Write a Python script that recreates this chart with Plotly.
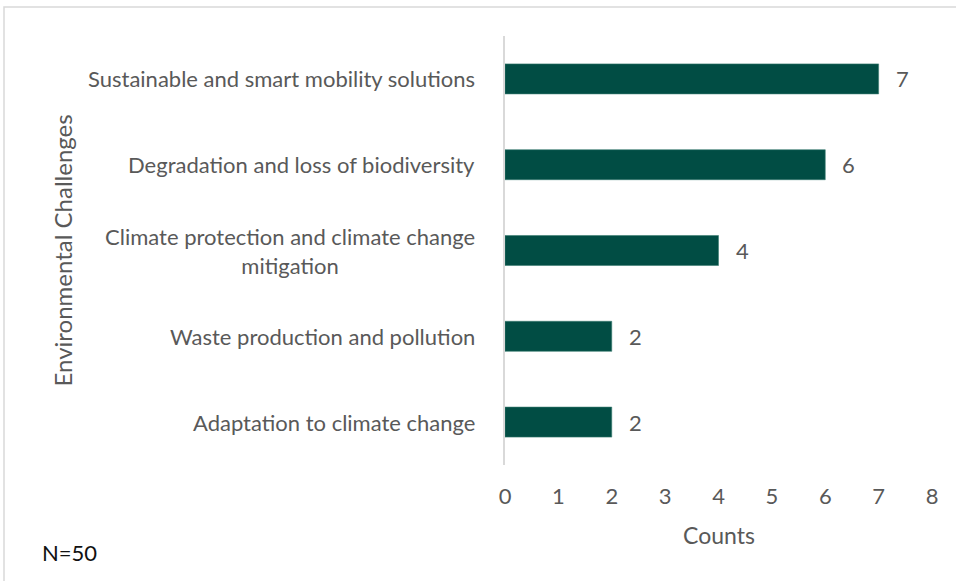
import plotly.graph_objects as go

categories = [
    "Sustainable and smart mobility solutions",
    "Degradation and loss of biodiversity",
    "Climate protection and climate change<br>mitigation",
    "Waste production and pollution",
    "Adaptation to climate change",
]
counts = [7, 6, 4, 2, 2]
x_ticks = [0, 1, 2, 3, 4, 5, 6, 7, 8]

FONT = "Lato, Open Sans, sans-serif"
GREY = "#595959"
BAR = "#014D44"

W, H = 956, 581
L, R, T, B = 505, 24, 36, 116
pw, ph = W - L - R, H - T - B

fig = go.Figure()
fig.add_trace(go.Bar(
    y=categories, x=counts, orientation="h",
    marker=dict(color=BAR, line=dict(color="#3d7d72", width=0.6)),
))

annotations = []
for c, v in zip(categories, counts):
    annotations.append(dict(
        x=0, xref="paper", xshift=-28, xanchor="right",
        y=c, yref="y", yanchor="middle",
        text=c, showarrow=False, align="center",
        font=dict(family=FONT, size=22, color=GREY),
    ))
    annotations.append(dict(
        x=v, xref="x", xshift=15, xanchor="left",
        y=c, yref="y", yanchor="middle",
        text=str(v), showarrow=False,
        font=dict(family=FONT, size=22, color=GREY),
    ))
annotations.append(dict(
    x=(62 - L) / pw, xref="paper", y=0.5, yref="paper",
    text="Environmental Challenges", textangle=-90, showarrow=False,
    xanchor="center", yanchor="middle",
    font=dict(family=FONT, size=24, color=GREY),
))
annotations.append(dict(
    x=(719 - L) / pw, xref="paper", y=-(535 - (T + ph)) / ph, yref="paper",
    text="Counts", showarrow=False, xanchor="center", yanchor="middle",
    font=dict(family=FONT, size=23, color=GREY),
))
annotations.append(dict(
    x=(40 - L) / pw, xref="paper", y=-(552 - (T + ph)) / ph, yref="paper",
    text="N=50", showarrow=False, xanchor="left", yanchor="middle",
    font=dict(family=FONT, size=22, color="#111111"),
))

fig.update_layout(
    width=W, height=H,
    margin=dict(l=L, r=R, t=T, b=B, autoexpand=False),
    paper_bgcolor="white", plot_bgcolor="white",
    showlegend=False,
    bargap=0.65,
    annotations=annotations,
    shapes=[dict(
        type="rect", xref="paper", yref="paper",
        x0=(4 - L) / pw, x1=(W + 10 - L) / pw,
        y0=-(H + 10 - (T + ph)) / ph, y1=(T + ph - 7) / ph,
        line=dict(color="#d9d9d9", width=1.5), fillcolor="rgba(0,0,0,0)",
        layer="below",
    )],
    xaxis=dict(
        range=[0, 8], tickvals=x_ticks, showgrid=False, zeroline=False,
        showline=False, ticks="", ticklabelstandoff=16,
        tickfont=dict(family=FONT, size=22, color=GREY),
    ),
    yaxis=dict(
        categoryorder="array", categoryarray=categories, autorange="reversed",
        showticklabels=False, showgrid=False, zeroline=False,
        showline=True, linecolor="#d9d9d9", linewidth=1.5, ticks="",
    ),
)

fig.write_html("out.html")
